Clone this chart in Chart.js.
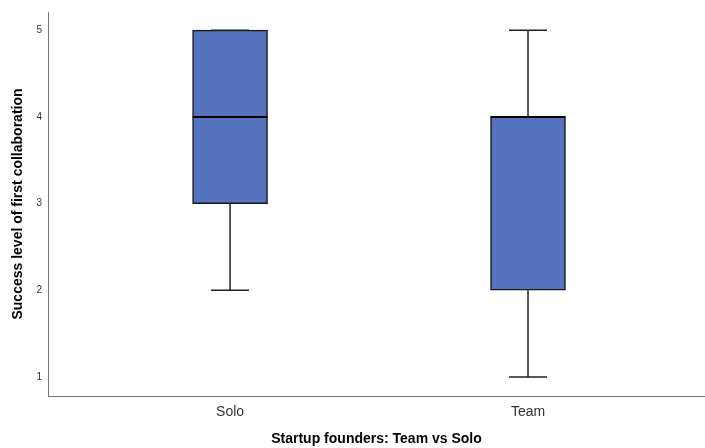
<!DOCTYPE html>
<html>
<head>
<meta charset="utf-8">
<script src="https://cdn.jsdelivr.net/npm/chart.js@4/dist/chart.umd.min.js"></script>
<style>
  html, body { margin: 0; padding: 0; background: #fff; }
  #wrap { width: 705px; height: 448px; }
</style>
</head>
<body>
<div id="wrap"><canvas id="boxChart"></canvas></div>
<script>
// values
const groups = ['Solo', 'Team'];
const groupPos = [1, 2];
const minVals = [2, 1];
const q1Vals = [3, 2];
const medianVals = [4, 4];
const q3Vals = [5, 4];
const maxVals = [5, 5];
const yTicks = [1, 2, 3, 4, 5];

var boxData = [];
for (var i = 0; i < groups.length; i++) {
    boxData.push({ x: groupPos[i], y: [q1Vals[i], q3Vals[i]] });
}

// whiskers + medians drawn on top of the bars using the chart scales
const whiskerPlugin = {
    id: 'whiskers',
    afterDatasetsDraw(chart) {
        const ctx = chart.ctx;
        const xs = chart.scales.x;
        const ys = chart.scales.y;
        const half = 37.5;
        const cap = 19;
        ctx.save();
        for (var i = 0; i < groups.length; i++) {
            const cx = xs.getPixelForValue(groupPos[i]);
            ctx.strokeStyle = '#222';
            ctx.lineWidth = 1.5;
            ctx.beginPath();
            // lower whisker
            ctx.moveTo(cx, ys.getPixelForValue(q1Vals[i]));
            ctx.lineTo(cx, ys.getPixelForValue(minVals[i]));
            ctx.moveTo(cx - cap, ys.getPixelForValue(minVals[i]));
            ctx.lineTo(cx + cap, ys.getPixelForValue(minVals[i]));
            // upper whisker
            ctx.moveTo(cx, ys.getPixelForValue(q3Vals[i]));
            ctx.lineTo(cx, ys.getPixelForValue(maxVals[i]));
            ctx.moveTo(cx - cap, ys.getPixelForValue(maxVals[i]));
            ctx.lineTo(cx + cap, ys.getPixelForValue(maxVals[i]));
            ctx.stroke();
            // median
            ctx.strokeStyle = '#000';
            ctx.lineWidth = 2;
            ctx.beginPath();
            ctx.moveTo(cx - half, ys.getPixelForValue(medianVals[i]));
            ctx.lineTo(cx + half, ys.getPixelForValue(medianVals[i]));
            ctx.stroke();
        }
        ctx.restore();
    }
};

const ctx = document.getElementById('boxChart').getContext('2d');

new Chart(ctx, {
    type: 'bar',
    data: {
        datasets: [{
            label: 'IQR',
            data: boxData,
            backgroundColor: '#5572BE',
            borderColor: '#1a1a1a',
            borderWidth: 1.5,
            borderSkipped: false,
            barThickness: 75
        }]
    },
    options: {
        responsive: true,
        maintainAspectRatio: false,
        animation: false,
        layout: { padding: { top: 12, right: 0, left: 0, bottom: 0 } },
        plugins: {
            legend: { display: false },
            tooltip: { enabled: false }
        },
        scales: {
            x: {
                type: 'linear',
                offset: false,
                min: 0.389,
                max: 2.594,
                grid: { display: false, drawTicks: false },
                border: { display: true, color: '#777', width: 1 },
                afterBuildTicks: function (scale) {
                    scale.ticks = groupPos.map(function (v) { return { value: v }; });
                },
                afterFit: function (scale) { scale.height = 52; },
                ticks: {
                    padding: 8,
                    color: '#333',
                    font: { family: 'Liberation Sans, Arial', size: 14 },
                    callback: function (value) {
                        return groups[groupPos.indexOf(value)] || '';
                    }
                },
                title: {
                    display: true,
                    text: 'Startup founders: Team vs Solo',
                    color: '#000',
                    font: { family: 'Liberation Sans, Arial', size: 14, weight: 'bold' },
                    padding: { top: 6, bottom: 0 }
                }
            },
            y: {
                min: 0.78,
                max: 5.21,
                grid: { display: false, drawTicks: false },
                border: { display: true, color: '#777', width: 1 },
                afterBuildTicks: function (scale) {
                    scale.ticks = yTicks.map(function (v) { return { value: v }; });
                },
                afterFit: function (scale) { scale.width = 48; },
                ticks: {
                    padding: 6,
                    color: '#333',
                    font: { family: 'Liberation Sans, Arial', size: 10 }
                },
                title: {
                    display: true,
                    text: 'Success level of first collaboration',
                    color: '#000',
                    font: { family: 'Liberation Sans, Arial', size: 14, weight: 'bold' },
                    padding: { top: 10, bottom: 0 }
                }
            }
        }
    },
    plugins: [whiskerPlugin]
});
</script>
</body>
</html>
